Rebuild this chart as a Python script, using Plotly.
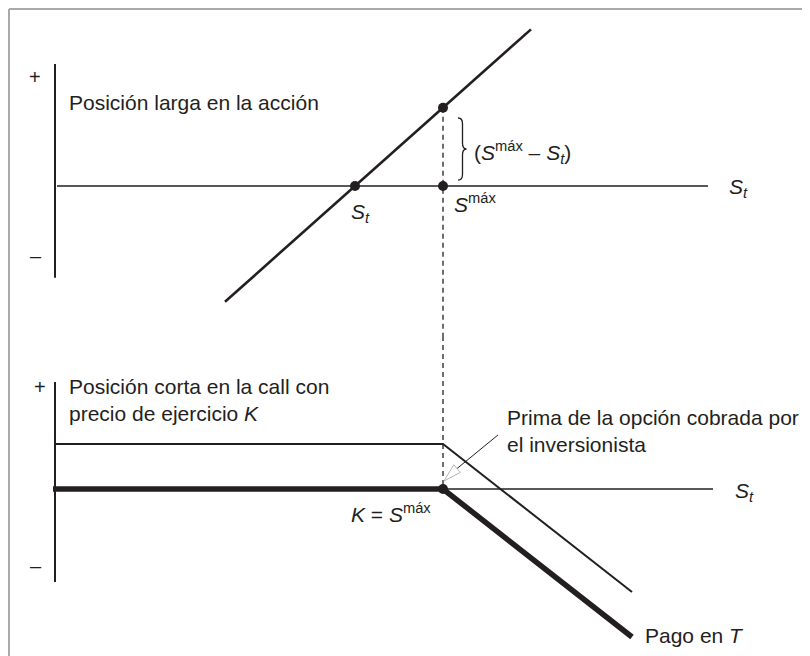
import plotly.graph_objects as go

s_t = 30.0
s_max = 38.8
premium = 5.75

stock_s = [17.0, 47.6]
stock_payoff = [-13.0, 17.6]

top_dots_s = [30.0, 38.8, 38.8]
top_dots_payoff = [0.0, 8.8, 0.0]

call_s = [-0.2, 38.8, 57.7]
call_payoff = [0.0, 0.0, -18.9]
call_net = [5.75, 5.75, -13.15]

INK = "#231f20"
FONT = "Liberation Sans, Arial, Helvetica, sans-serif"

fig = go.Figure()


def seg(xs, ys, yax, width, color=INK, dash="solid"):
    fig.add_trace(go.Scatter(x=xs, y=ys, yaxis=yax, mode="lines",
                             line=dict(color=color, width=width, dash=dash),
                             hoverinfo="skip", showlegend=False))


# panel superior: posicion larga en la accion
seg([0, 0], [13.7, -10.3], "y", 2)
seg([0.2, 65.3], [0, 0], "y", 1.6)
seg(stock_s, stock_payoff, "y", 2.6)
seg([s_max, s_max], [top_dots_payoff[1], -16.85], "y", 1.3, dash="5px,4px")
fig.add_trace(go.Scatter(x=top_dots_s, y=top_dots_payoff, yaxis="y", mode="markers",
                         marker=dict(color=INK, size=10), hoverinfo="skip", showlegend=False))

# panel inferior: posicion corta en la call
seg([s_max, s_max], [19.54, 0], "y2", 1.3, dash="5px,4px")
seg([0, 0], [13.67, -11.88], "y2", 2)
seg([0, 65.8], [0, 0], "y2", 1.5)
seg([0] + call_s[1:], call_net, "y2", 2)
seg(call_s, call_payoff, "y2", 5.5)
fig.add_trace(go.Scatter(x=[s_max], y=[0], yaxis="y2", mode="markers",
                         marker=dict(color=INK, size=10), hoverinfo="skip", showlegend=False))

ann = []


def txt(x, y, text, yref="y", xanchor="left", size=21):
    ann.append(dict(x=x, y=y, xref="x", yref=yref, text=text, showarrow=False,
                    xanchor=xanchor, yanchor="middle", align="left",
                    font=dict(family=FONT, size=size, color=INK)))


txt(-2.0, 12.25, "+", xanchor="center", size=20)
txt(-1.9, -7.87, "–", xanchor="center", size=20)
txt(1.2, 9.33, "Posición larga en la acción")
txt(30.5, -3.03, "<i>S<sub>t</sub></i>", xanchor="center")
txt(39.7, -1.91, "<i>S</i><sup>máx</sup>")
txt(41.7, 3.82, "(<i>S</i><sup>máx</sup> – <i>S<sub>t</sub></i>)")
txt(67.2, -0.22, "<i>S<sub>t</sub></i>")

txt(-1.5, 13.03, "+", yref="y2", xanchor="center", size=20)
txt(-1.9, -9.83, "–", yref="y2", xanchor="center", size=20)
txt(1.2, 11.43, "Posición corta en la call con<br>precio de ejercicio <i>K</i>", yref="y2")
txt(45.0, 7.47, "Prima de la opción cobrada por<br>el inversionista", yref="y2")
txt(37.8, -3.07, "<i>K</i> = <i>S</i><sup>máx</sup>", yref="y2", xanchor="right")
txt(67.8, -0.38, "<i>S<sub>t</sub></i>", yref="y2")
txt(58.8, -18.65, "Pago en <i>T</i>", yref="y2")

shapes = [
    # marco gris
    dict(type="line", xref="paper", yref="paper", x0=1 / 810, x1=1 / 810, y0=1 - 1 / 656, y1=0,
         line=dict(color="#a7a9ac", width=2)),
    dict(type="line", xref="paper", yref="paper", x0=1 / 810, x1=1, y0=1 - 1 / 656, y1=1 - 1 / 656,
         line=dict(color="#a7a9ac", width=2)),
    # llave
    dict(type="path", xref="x", yref="y",
         path="M 40.3,7.64 Q 40.75,7.64 40.75,7.0 L 40.75,4.8 Q 40.75,4.16 41.15,4.16 "
              "Q 40.75,4.16 40.75,3.5 L 40.75,1.3 Q 40.75,0.67 40.3,0.67",
         line=dict(color=INK, width=1.3)),
    # flecha de la prima
    dict(type="line", xref="x", yref="y2", x0=44.3, y0=6.9, x1=40.2, y1=2.61,
         line=dict(color=INK, width=1)),
    dict(type="path", xref="x", yref="y2", path="M 38.9,1.02 L 40.52,2.11 L 39.88,3.10 Z",
         line=dict(color="#b5b5b5", width=1), fillcolor="white"),
]

fig.update_layout(
    width=810, height=656,
    margin=dict(l=0, r=0, t=0, b=0),
    paper_bgcolor="white", plot_bgcolor="white",
    xaxis=dict(range=[-4.7, 76.3], visible=False, domain=[0, 1], anchor="y"),
    yaxis=dict(range=[-16.85, 20.0], visible=False, domain=[0.5, 1], anchor="x"),
    yaxis2=dict(range=[-22.35, 19.54], visible=False, domain=[0, 0.5], anchor="x"),
    annotations=ann, shapes=shapes,
    showlegend=False,
)

fig.write_html("out.html", config={"displayModeBar": False})
